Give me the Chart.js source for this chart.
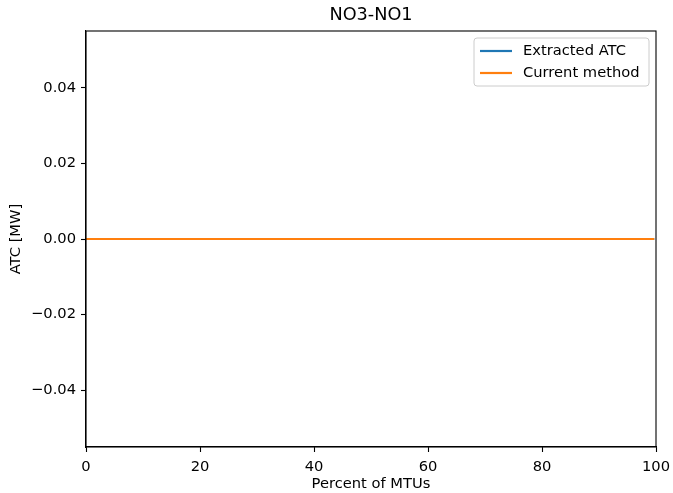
<!DOCTYPE html>
<html>
<head>
<meta charset="utf-8">
<script src="https://cdn.jsdelivr.net/npm/chart.js@4"></script>
<style>
  body { margin: 0; background: #fff; }
  #wrap { width: 673px; height: 493px; }
</style>
</head>
<body>
<div id="wrap"><canvas id="myChart" width="673" height="493"></canvas></div>
<script>
// data
var percentMTU = [0, 99.7];
var extractedATC = [0, 0];
var currentMethod = [0, 0];
var xTicks = [0, 20, 40, 60, 80, 100];
var yTicks = [-0.04, -0.02, 0, 0.02, 0.04];
var seriesNames = ['Extracted ATC', 'Current method'];
var seriesColors = ['#1f77b4', '#ff7f0e'];

var FONT = 'DejaVu Sans';
var FS = 14.7;

function pts(xs, ys) {
    return xs.map(function (x, i) { return { x: x, y: ys[i] }; });
}

// title, frame and legend box the matplotlib way
var extras = {
    id: 'extras',
    afterDraw: function (chart) {
        var c = chart.ctx, a = chart.chartArea;
        c.save();
        c.strokeStyle = '#000';
        c.lineWidth = 1.1;
        c.strokeRect(a.left, a.top, a.right - a.left, a.bottom - a.top);

        c.fillStyle = '#000';
        c.font = '17.7px "' + FONT + '"';
        c.textAlign = 'center';
        c.textBaseline = 'middle';
        c.fillText('NO3-NO1', (a.left + a.right) / 2, 15);

        // legend
        var bx = 474, by = 38, bw = 175, bh = 48, r = 3;
        c.beginPath();
        c.roundRect(bx, by, bw, bh, r);
        c.fillStyle = 'rgba(255,255,255,0.8)';
        c.fill();
        c.strokeStyle = '#cccccc';
        c.lineWidth = 1;
        c.stroke();
        c.font = FS + 'px "' + FONT + '"';
        c.textAlign = 'left';
        for (var i = 0; i < seriesNames.length; i++) {
            var yy = 51 + i * 22;
            c.strokeStyle = seriesColors[i];
            c.lineWidth = 2.2;
            c.beginPath();
            c.moveTo(480, yy);
            c.lineTo(512, yy);
            c.stroke();
            c.fillStyle = '#000';
            c.fillText(seriesNames[i], 523, yy);
        }
        c.restore();
    }
};

var ctx = document.getElementById('myChart').getContext('2d');
var myChart = new Chart(ctx, {
    type: 'line',
    data: {
        datasets: [{
            label: seriesNames[0],
            data: pts(percentMTU, extractedATC),
            borderColor: seriesColors[0],
            borderWidth: 2.2,
            pointRadius: 0,
            order: 1
        }, {
            label: seriesNames[1],
            data: pts(percentMTU, currentMethod),
            borderColor: seriesColors[1],
            borderWidth: 2.2,
            pointRadius: 0,
            order: 0
        }]
    },
    plugins: [extras],
    options: {
        responsive: false,
        animation: false,
        layout: { padding: { top: 31, right: 17, left: 0, bottom: 0 } },
        plugins: {
            legend: { display: false },
            tooltip: { enabled: false }
        },
        scales: {
            x: {
                type: 'linear',
                min: 0,
                max: 100,
                afterBuildTicks: function (s) { s.ticks = xTicks.map(function (v) { return { value: v }; }); },
                afterFit: function (s) {
                    s.height = 46;
                    s.paddingLeft = 0;
                    s.paddingRight = 0;
                },
                grid: { drawOnChartArea: false, drawTicks: true, tickLength: 5, tickWidth: 1.1, tickColor: '#000' },
                border: { color: '#000', width: 1.1 },
                ticks: {
                    color: '#000',
                    padding: 6,
                    maxRotation: 0,
                    font: { family: FONT, size: FS },
                    callback: function (v) { return String(v); }
                },
                title: {
                    display: true,
                    text: 'Percent of MTUs',
                    color: '#000',
                    padding: { top: 0, bottom: 0.2 },
                    font: { family: FONT, size: FS }
                }
            },
            y: {
                min: -0.055,
                max: 0.055,
                afterBuildTicks: function (s) { s.ticks = yTicks.map(function (v) { return { value: v }; }); },
                afterFit: function (s) {
                    s.width = 86;
                    s.paddingTop = 0;
                    s.paddingBottom = 0;
                },
                grid: { drawOnChartArea: false, drawTicks: true, tickLength: 5, tickWidth: 1.1, tickColor: '#000' },
                border: { color: '#000', width: 1.1 },
                ticks: {
                    color: '#000',
                    padding: 5,
                    font: { family: FONT, size: FS },
                    callback: function (v) {
                        return (v < 0 ? '\u2212' : '') + Math.abs(v).toFixed(2);
                    }
                },
                title: {
                    display: true,
                    text: 'ATC [MW]',
                    color: '#000',
                    padding: { top: 7, bottom: 0 },
                    font: { family: FONT, size: FS }
                }
            }
        }
    }
});
</script>
</body>
</html>
